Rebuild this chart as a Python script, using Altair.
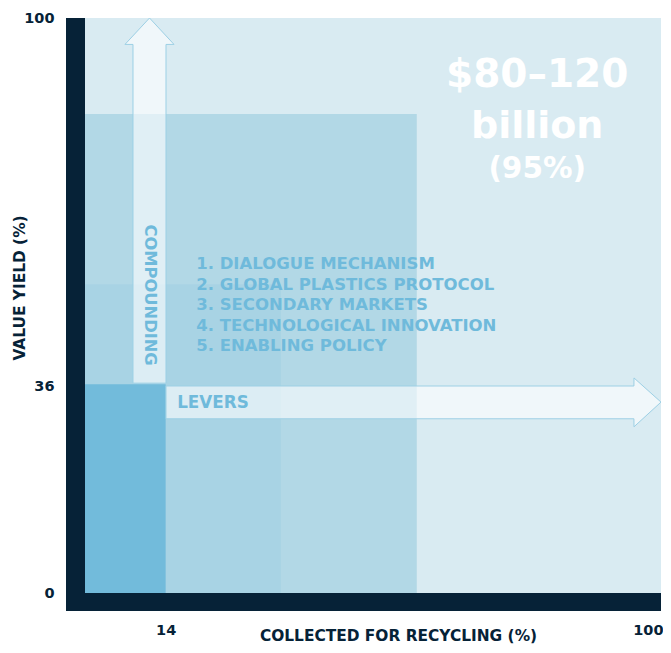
import altair as alt
import pandas as pd

# ---------------- data ----------------
region_names = ["potential", "compounded", "levers", "today"]
region_x_end = [100, 57.6, 34.0, 14.0]
region_y_end = [100, 83.3, 53.7, 36.3]
region_colors = ["#d9ebf2", "#b2d8e6", "#a8d3e4", "#72bbdb"]

x_ticks = [14, 100]
y_ticks = [0, 36, 100]

lever_items = [
    "1. DIALOGUE MECHANISM",
    "2. GLOBAL PLASTICS PROTOCOL",
    "3. SECONDARY MARKETS",
    "4. TECHNOLOGICAL INNOVATION",
    "5. ENABLING POLICY",
]
headline = ["$80–120", "billion", "(95%)"]

# arrow outlines (data units)
up_arrow_y = [36.5, 95.4, 95.41, 100]
up_arrow_left = [8.33, 8.33, 6.94, 11.2]
up_arrow_right = [14.06, 14.06, 15.45, 11.2]

right_arrow_x = [14.06, 95.3, 95.31, 100]
right_arrow_top = [36.0, 36.0, 37.4, 33.2]
right_arrow_bottom = [30.3, 30.3, 28.9, 33.2]

# ---------------- styling ----------------
FONT = "DejaVu Sans"
NAVY = "#062237"
TXT_BLUE = "#6fbadb"
X_LO, Y_LO = -3.3, -3.13  # room for the thick frame bars

xs = alt.Scale(domain=[X_LO, 100], nice=False, zero=False)
ys = alt.Scale(domain=[Y_LO, 100], nice=False, zero=False)

label_style = dict(labelFont=FONT, labelFontSize=14.5, labelFontWeight="bold", labelColor=NAVY)
title_style = dict(titleFont=FONT, titleFontSize=15.4, titleFontWeight="bold", titleColor=NAVY)

x_axis = alt.Axis(
    values=x_ticks, title="COLLECTED FOR RECYCLING (%)",
    labelPadding=12, labelFlush=True, labelFlushOffset=2,
    titleX=332, titleY=29, titleBaseline="alphabetic", titleAlign="center",
    **label_style, **title_style,
)
y_axis = alt.Axis(
    values=y_ticks, title="VALUE YIELD (%)",
    labelPadding=12, labelFlush=False, labelBaseline="middle", labelAlign="right",
    titleAngle=-90, titleX=-42, titleY=269.5, titleBaseline="alphabetic",
    titleAlign="center",
    **label_style, **title_style,
)

regions = pd.DataFrame({
    "region": region_names, "x0": [0] * 4, "x1": region_x_end,
    "y0": [0] * 4, "y1": region_y_end,
})
rects = alt.Chart(regions).mark_rect().encode(
    x=alt.X("x0:Q", scale=xs, axis=x_axis),
    x2="x1:Q",
    y=alt.Y("y0:Q", scale=ys, axis=y_axis),
    y2="y1:Q",
    color=alt.Color("region:N", scale=alt.Scale(domain=region_names, range=region_colors), legend=None),
)

frame_df = pd.DataFrame({"x0": [X_LO, X_LO], "x1": [0, 100], "y0": [Y_LO, Y_LO], "y1": [100, 0]})
frame = alt.Chart(frame_df).mark_rect(color=NAVY).encode(
    x="x0:Q", x2="x1:Q", y="y0:Q", y2="y1:Q"
)

arrow_style = dict(fill="white", fillOpacity=0.6, stroke="#9dd0e5", strokeWidth=1)

up_df = pd.DataFrame({"y": up_arrow_y, "xl": up_arrow_left, "xr": up_arrow_right})
up_arrow = alt.Chart(up_df).mark_area(orient="horizontal", **arrow_style).encode(
    y="y:Q", x="xl:Q", x2="xr:Q"
)
right_df = pd.DataFrame({"x": right_arrow_x, "yt": right_arrow_top, "yb": right_arrow_bottom})
right_arrow = alt.Chart(right_df).mark_area(orient="vertical", **arrow_style).encode(
    x="x:Q", y="yt:Q", y2="yb:Q"
)


def text_layer(text, x, y, **style):
    return alt.Chart(pd.DataFrame({"k": [0]})).mark_text(
        text=text, font=FONT, fontWeight="bold", **style
    ).encode(x=alt.datum(x), y=alt.datum(y))


texts = [
    text_layer(headline[0], 78.5, 88.0, fontSize=39, color="white", align="center", baseline="alphabetic"),
    text_layer(headline[1], 78.5, 79.1, fontSize=38, color="white", align="center", baseline="alphabetic"),
    text_layer(headline[2], 78.5, 72.2, fontSize=29.5, color="white", align="center", baseline="alphabetic"),
    text_layer(lever_items, 19.3, 56.3, fontSize=16.5, color=TXT_BLUE, align="left",
               baseline="alphabetic", lineHeight=20.5),
    text_layer("COMPOUNDING", 11.2, 51.8, fontSize=16.3, color=TXT_BLUE, align="center",
               baseline="middle", angle=90),
    text_layer("LEVERS", 16.0, 33.0, fontSize=16.8, color=TXT_BLUE, align="left", baseline="middle"),
]

chart = alt.layer(rects, frame, up_arrow, right_arrow, *texts).properties(
    width=595, height=593,
    padding={"left": 58, "top": 10, "right": 2, "bottom": 34},
    autosize=alt.AutoSizeParams(type="none"),
    background="white",
).configure_view(stroke=None).configure_axis(
    domain=False, ticks=False, grid=False, **label_style, **title_style,
)

chart.save("out.html", embed_options={"renderer": "svg", "actions": False})
